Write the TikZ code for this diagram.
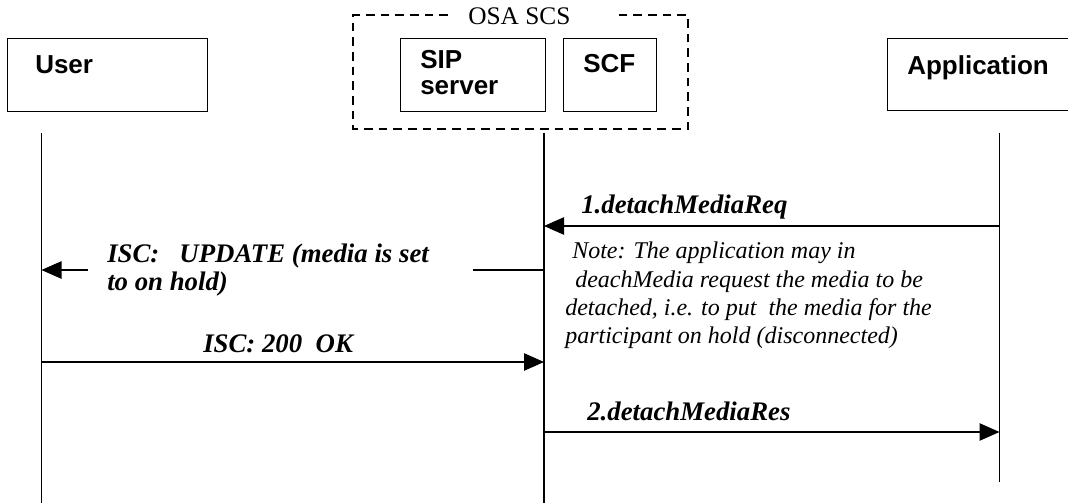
\documentclass[tikz,border=0pt]{standalone}
\usepackage{fontspec}
\setmainfont{Liberation Serif}
\newfontfamily\arialfont{Liberation Sans}
\usetikzlibrary{arrows.meta}
\begin{document}
\begin{tikzpicture}[x=0.75pt,y=-0.75pt,
  box/.style={draw, line width=1.1pt, anchor=north west, inner sep=0pt},
  lifeline/.style={line width=1.1pt},
  msg/.style={line width=1.1pt, -{Triangle[length=15pt,width=13pt]}},
  plainline/.style={line width=1.1pt},
  boxlabel/.style={font=\arialfont\bfseries\fontsize{19.5}{23}\selectfont, anchor=base west, inner sep=0pt},
  msglabel/.style={font=\bfseries\itshape\fontsize{20.1}{24}\selectfont, anchor=base west, inner sep=0pt},
  notelabel/.style={font=\itshape\fontsize{18}{21}\selectfont, anchor=base west, inner sep=0pt},
  grouplabel/.style={font=\fontsize{19}{23}\selectfont, anchor=base west, inner sep=0pt},
  groupline/.style={line width=1.1pt, dash pattern=on 6.5pt off 4.5pt}
]
\useasboundingbox (0,0) rectangle (1068,503);
\clip (0,0) rectangle (1068,503);
\fill[white] (0,0) rectangle (1068,503);

% participant boxes
\node[box, minimum width=150pt, minimum height=54.75pt] (user) at (7,38) {};
\node[box, minimum width=108.75pt, minimum height=54.75pt] (sip) at (400,38) {};
\node[box, minimum width=69.75pt, minimum height=54.75pt] (scf) at (563,38) {};
\node[box, minimum width=141pt, minimum height=54pt] (app) at (887,38) {};

\node[boxlabel] (userlbl) at (35,74) {User};
\node[boxlabel] (siplbl) at (420,69) {SIP};
\node[boxlabel] (serverlbl) at (420,95) {server};
\node[boxlabel] (scflbl) at (583,73) {SCF};
\node[boxlabel] (applbl) at (907,75) {Application};

% OSA SCS group
\node[grouplabel] (osalbl) at (468,25) {OSA SCS};
\draw[groupline] (448,15) -- (353,15) -- (353,129) -- (688,129) -- (688,15) -- (617,15);

% lifelines
\coordinate (uTop) at (41.5,133); \coordinate (uBot) at (41.5,505);
\coordinate (sTop) at (544,133);  \coordinate (sBot) at (544,505);
\coordinate (aTop) at (999.5,133); \coordinate (aBot) at (999.5,482);
\draw[lifeline] (uTop) -- (uBot);
\draw[lifeline] (sTop) -- (sBot);
\draw[lifeline] (aTop) -- (aBot);

% message 1
\coordinate (a1) at (999.5,226); \coordinate (s1) at (544,226);
\draw[msg] (a1) -- (s1);
\node[msglabel] (m1lbl) at (581,213) {1.detachMediaReq};

% message UPDATE
\coordinate (s2) at (544,270); \coordinate (g2r) at (473,270);
\coordinate (g2l) at (88,270); \coordinate (u2) at (41.5,270);
\draw[plainline] (s2) -- (g2r);
\draw[msg] (g2l) -- (u2);
\node[msglabel] (m2lbla) at (107,262) {ISC:\ \ \ UPDATE (media is set};
\node[msglabel] (m2lblb) at (107,290) {to on hold)};

% note
\node[notelabel] (note1) at (572,258) {Note: The application may in};
\node[notelabel] (note2) at (575,287) {deachMedia request the media to be};
\node[notelabel] (note3) at (565,315) {detached, i.e. to put\ \ the media for the};
\node[notelabel] (note4) at (565,343) {participant on hold (disconnected)};

% message 200 OK
\coordinate (u3) at (41.5,362); \coordinate (s3) at (544,362);
\draw[msg] (u3) -- (s3);
\node[msglabel] (m3lbl) at (203,352) {ISC: 200\ \ OK};

% message 2
\coordinate (s4) at (544,432); \coordinate (a4) at (999.5,432);
\draw[msg] (s4) -- (a4);
\node[msglabel] (m4lbl) at (587,420) {2.detachMediaRes};
\end{tikzpicture}
\end{document}
